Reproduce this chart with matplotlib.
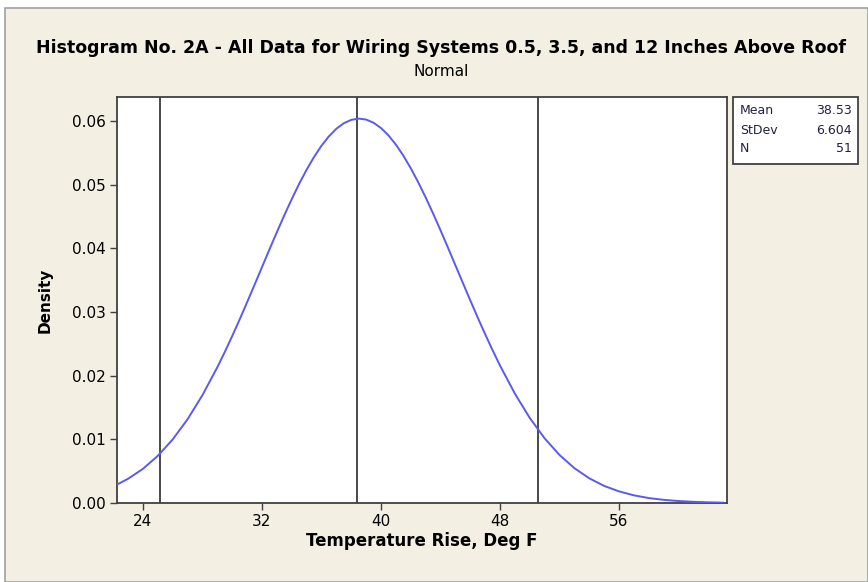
import matplotlib
matplotlib.use("agg")
import matplotlib.pyplot as plt
from matplotlib.patches import Rectangle

# curve (density vs temperature rise)
temp = [22.3, 23, 24, 25, 26, 27, 28, 29, 29.5, 30, 30.5, 31, 31.5, 32, 32.5,
        33, 33.5, 34, 34.5, 35, 35.5, 36, 36.5, 37, 37.5, 38, 38.5, 39, 39.5,
        40, 40.5, 41, 41.5, 42, 42.5, 43, 43.5, 44, 44.5, 45, 45.5, 46, 46.5,
        47, 47.5, 48, 49, 50, 51, 52, 53, 54, 55, 56, 57, 58, 59, 60, 61, 62, 63]
density = [0.00295, 0.00381, 0.00537, 0.00741, 0.00999, 0.01316, 0.01695,
           0.02133, 0.02372, 0.02623, 0.02884, 0.03153, 0.03428, 0.03705,
           0.03982, 0.04255, 0.04520, 0.04774, 0.05015, 0.05237, 0.05437,
           0.05614, 0.05762, 0.05881, 0.05968, 0.06021, 0.06041, 0.06026,
           0.05976, 0.05893, 0.05778, 0.05633, 0.05460, 0.05262, 0.05042,
           0.04804, 0.04551, 0.04287, 0.04015, 0.03738, 0.03461, 0.03186,
           0.02916, 0.02654, 0.02402, 0.02161, 0.01719, 0.01337, 0.01016,
           0.00755, 0.00548, 0.00389, 0.00269, 0.00183, 0.00121, 0.00078,
           0.00050, 0.00031, 0.00019, 0.00011, 0.00006]
ref_lines = [25.15, 38.41, 50.58]
xticks = [24, 32, 40, 48, 56]
yticks = [0.00, 0.01, 0.02, 0.03, 0.04, 0.05, 0.06]
stat_names = ["Mean", "StDev", "N"]
stat_values = ["38.53", "6.604", "51"]

bg = "#f3efe3"
fig = plt.figure(figsize=(8.68, 5.82), dpi=100, facecolor="white")
fig.patches.append(Rectangle((0.006, 0.0), 0.994, 0.986, transform=fig.transFigure,
                             facecolor=bg, edgecolor="#a0a0a0", lw=1.2, zorder=-10))

ax = fig.add_axes([0.135, 0.1357, 0.7026, 0.6976])
ax.set_facecolor("white")
ax.plot(temp, density, color="#5a5af0", lw=1.4, zorder=3)
for x in ref_lines:
    ax.axvline(x, color="#3a3a3a", lw=1.3, zorder=2)

ax.set_xlim(22.27, 63.26)
ax.set_ylim(0, 0.0638)
ax.set_xticks(xticks)
ax.set_yticks(yticks)
ax.set_yticklabels([f"{v:.2f}" for v in yticks])
ax.tick_params(labelsize=11, length=5, width=1, color="#404040", pad=3)
for s in ax.spines.values():
    s.set_color("#404040")
    s.set_linewidth(1.3)

ax.set_xlabel("Temperature Rise, Deg F", fontsize=12, fontweight="bold", labelpad=2)
ax.set_ylabel("Density", fontsize=11, fontweight="bold", labelpad=14)

fig.text(0.508, 0.917, "Histogram No. 2A - All Data for Wiring Systems 0.5, 3.5, and 12 Inches Above Roof",
         ha="center", va="center", fontsize=12.5, fontweight="bold")
fig.text(0.508, 0.878, "Normal", ha="center", va="center", fontsize=11)

# stats box
fig.patches.append(Rectangle((733 / 868, 1 - 164 / 582), 125 / 868, 67 / 582,
                             transform=fig.transFigure, facecolor="white",
                             edgecolor="#404040", lw=1.3))
for i, (n, v) in enumerate(zip(stat_names, stat_values)):
    y = 1 - (111 + i * 19) / 582
    fig.text(740 / 868, y, n, ha="left", va="center", fontsize=9, color="#202040")
    fig.text(852 / 868, y, v, ha="right", va="center", fontsize=9, color="#202040")

fig.savefig("out.png", dpi=100, facecolor=fig.get_facecolor())
